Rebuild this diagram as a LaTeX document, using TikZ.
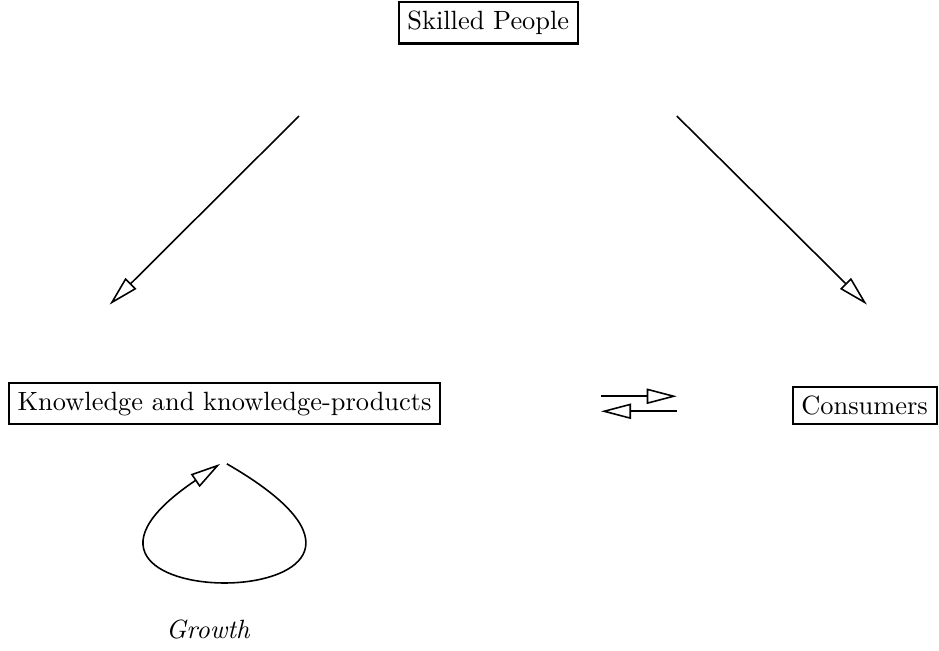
\documentclass[tikz,border=0pt]{standalone}
\usepackage{amsmath}
\usepackage{tikz}
\usetikzlibrary{arrows.meta}

\begin{document}
\begin{tikzpicture}[
    box/.style={draw, thick, inner sep=3.3pt},
    arr/.style={semithick, -{Triangle[open, length=11.4pt, width=5.8pt]}}
  ]
    \useasboundingbox (0,0) rectangle (12.50,8.665);

    % Nodes
    \node[box] (skilled) at (6.50, 8.36) {Skilled People};
    \node[box] (know) at (2.99, 3.29) {Knowledge and knowledge-products};
    \node[box] (cons) at (11.51, 3.27) {Consumers};
    \node (growth) at (2.77, 0.28) {\textit{Growth}};

    % Arrow ends
    \coordinate (sA) at (3.98, 7.12);
    \coordinate (kA) at (1.46, 4.61);
    \coordinate (sB) at (9.01, 7.12);
    \coordinate (cB) at (11.54, 4.61);
    \coordinate (kC) at (8.00, 3.39);
    \coordinate (cC) at (9.01, 3.39);
    \coordinate (kD) at (8.00, 3.19);
    \coordinate (cD) at (9.01, 3.19);
    \coordinate (loopS) at (3.02, 2.49);
    \coordinate (loopE) at (2.93, 2.49);

    % Arrows from Skilled People
    \draw[arr] (sA) -- (kA);
    \draw[arr] (sB) -- (cB);

    % Exchange
    \draw[arr] (kC) -- (cC);
    \draw[arr] (cD) -- (kD);

    % Growth loop
    \draw[arr] (loopS) .. controls (6.56, 0.45) and (-0.20, 0.38) .. (loopE);
\end{tikzpicture}
\end{document}
